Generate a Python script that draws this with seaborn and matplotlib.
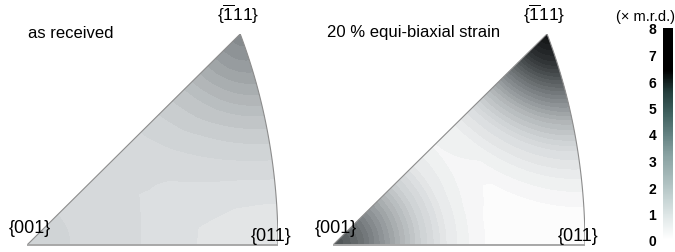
import numpy as np
import matplotlib
matplotlib.use("Agg")
import matplotlib.pyplot as plt
import seaborn as sns
from matplotlib.patches import Polygon
from matplotlib.cm import ScalarMappable
from matplotlib.colors import Normalize

# angular distance from a pole (degrees) and m.r.d. added by that pole
ANGLES = [0, 5, 10, 15, 20, 25, 30, 35, 90]

asrec_base = 1.5
asrec_111 = [2.7, 2.2, 1.6, 1.0, 0.6, 0.3, 0.1, 0.0, 0.0]
asrec_001 = [0.35, 0.3, 0.2, 0.1, 0.05, 0.0, 0.0, 0.0, 0.0]
asrec_011 = [-0.5, -0.45, -0.35, -0.25, -0.15, -0.05, 0.0, 0.0, 0.0]

strain_base = 0.05
strain_111 = [7.9, 6.6, 4.6, 2.8, 1.4, 0.6, 0.1, 0.0, 0.0]
strain_001 = [5.8, 4.8, 3.4, 2.0, 0.9, 0.3, 0.0, 0.0, 0.0]

titles = ["as received", "20 % equi-biaxial strain"]
pole_labels = ["{001}", "{011}", r"{$\overline{\mathrm{1}}$11}"]
cbar_ticks = [0, 1, 2, 3, 4, 5, 6, 7, 8]

sns.set_theme(style="white")
plt.rcParams["font.family"] = ["Liberation Sans", "DejaVu Sans"]
plt.rcParams["mathtext.fontset"] = "custom"
plt.rcParams["mathtext.rm"] = "Liberation Sans"
plt.rcParams["text.color"] = "black"
plt.rcParams["ytick.color"] = "black"

field_cmap = sns.blend_palette(["#ffffff", "#e6e8e9", "#cdd1d3", "#aeb3b5", "#8a8f92",
                                "#676c6e", "#454a4c", "#272a2c", "#0e1011"], as_cmap=True)
bar_cmap = sns.blend_palette(["#ffffff", "#e3eaea", "#c4d2d2", "#a5b8b8", "#89a2a2",
                              "#628080", "#3f605e", "#243e3c", "#000000", "#000000", "#000000"],
                             as_cmap=True)


def project(v):
    # equal-area projection of unit vectors
    v = v / np.linalg.norm(v, axis=-1, keepdims=True)
    th = np.arccos(np.clip(v[..., 2], -1, 1))
    ph = np.arctan2(v[..., 1], v[..., 0])
    r = 2 * np.sin(th / 2)
    return r * np.cos(ph), r * np.sin(ph)


def to_dir(x, y):
    r = np.sqrt(x ** 2 + y ** 2)
    th = 2 * np.arcsin(np.clip(r / 2, 0, 1))
    ph = np.arctan2(y, x)
    return np.stack([np.sin(th) * np.cos(ph), np.sin(th) * np.sin(ph), np.cos(th)], axis=-1)


P001 = np.array([0, 0, 1.0])
P011 = np.array([1, 0, 1.0]) / np.sqrt(2)
P111 = np.array([1, 1, 1.0]) / np.sqrt(3)

# triangle outline
t = np.linspace(0, 1, 60)
arc = np.stack([np.ones_like(t), t, np.ones_like(t)], axis=-1)
ax_arc, ay_arc = project(arc)
tri = np.vstack([[0, 0], np.column_stack([ax_arc, ay_arc]), [0, 0]])

gx, gy = np.meshgrid(np.linspace(0, 0.78, 300), np.linspace(0, 0.67, 260))
dirs = to_dir(gx, gy)


def ang(p):
    return np.degrees(np.arccos(np.clip(dirs @ p, -1, 1)))


fields = [
    asrec_base + np.interp(ang(P111), ANGLES, asrec_111) + np.interp(ang(P001), ANGLES, asrec_001)
    + np.interp(ang(P011), ANGLES, asrec_011),
    strain_base + np.interp(ang(P111), ANGLES, strain_111) + np.interp(ang(P001), ANGLES, strain_001),
]

W, H = 675, 253
fig = plt.figure(figsize=(W / 100, H / 100), dpi=100)

panels = [(27, 278, 35, 246), (333, 585, 35, 246)]
title_x = [28, 327]
xmax = project(P011[None])[0][0]
ymax = project(P111[None])[1][0]
levels = np.arange(0, 8.01, 0.25)

for i, (x0, x1, ytop, ybot) in enumerate(panels):
    ax = fig.add_axes([x0 / W, (H - ybot) / H, (x1 - x0) / W, (ybot - ytop) / H])
    ax.set_xlim(0, xmax)
    ax.set_ylim(0, ymax)
    ax.axis("off")
    cs = ax.contourf(gx, gy, np.clip(fields[i], 0, 7.99), levels=levels, cmap=field_cmap,
                     vmin=0, vmax=8)
    patch = Polygon(tri, closed=True, facecolor="none", edgecolor="#8c8c8c", lw=0.8)
    ax.add_patch(patch)
    cs.set_clip_path(patch)
    ax.plot([0, xmax], [0, 0], color="#a8a8a8", lw=1.4, clip_on=False, solid_capstyle="butt")

    fig.text(title_x[i] / W, 1 - 33 / H, titles[i], fontsize=12, va="center", ha="left")
    fig.text((x0 + 3) / W, 1 - 229 / H, pole_labels[0], fontsize=13, va="center", ha="center")
    fig.text((x1 - 7) / W, 1 - 237 / H, pole_labels[1], fontsize=13, va="center", ha="center")
    fig.text((x0 + 211) / W, 1 - 14 / H, pole_labels[2], fontsize=12.5, va="center", ha="center")

cax = fig.add_axes([663 / W, (H - 241) / H, 10 / W, 212 / H])
cb = fig.colorbar(ScalarMappable(norm=Normalize(0, 8), cmap=bar_cmap), cax=cax, ticks=cbar_ticks)
cb.outline.set_visible(False)
cax.yaxis.set_ticks_position("left")
cax.tick_params(length=0, pad=5, labelsize=10)
for lab in cax.get_yticklabels():
    lab.set_fontweight("bold")
fig.text(645 / W, 1 - 17 / H, "(\u00d7 m.r.d.)", fontsize=10.5, ha="center", va="center")

fig.savefig("out.png", dpi=100)
